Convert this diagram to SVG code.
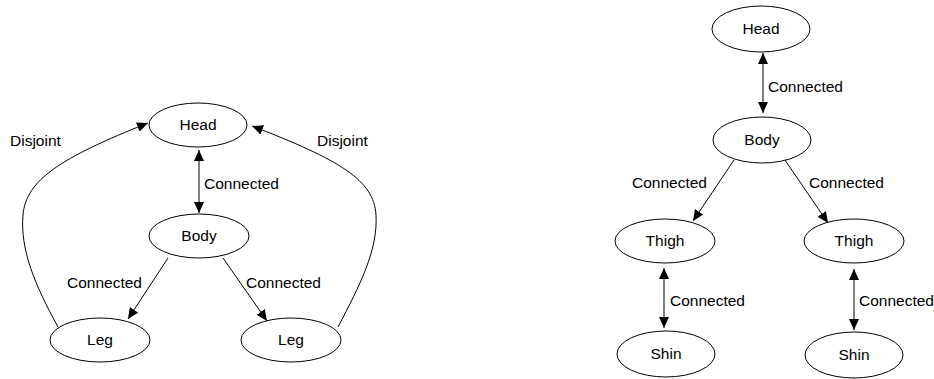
<svg xmlns="http://www.w3.org/2000/svg" width="934" height="379" viewBox="0 0 934 379">
  <style>
    .node ellipse { fill: #fff; stroke: #000; stroke-width: 1; }
    .node text { font-family: "Liberation Sans", Arial, sans-serif; font-size: 15.5px; text-anchor: middle; fill: #000; }
    .edge { fill: none; stroke: #000; stroke-width: 1; }
    .lbl { font-family: "Liberation Sans", Arial, sans-serif; font-size: 15.5px; fill: #000; }
  </style>
  <defs>
    <marker id="arrow" markerUnits="userSpaceOnUse" markerWidth="11" markerHeight="10" refX="11" refY="5" orient="auto-start-reverse" viewBox="0 0 11 10">
      <path d="M0,0 L11,5 L0,10 Z" fill="#000"/>
    </marker>
  </defs>
  <rect width="934" height="379" fill="#fff"/>

  <!-- left graph -->
  <g id="connectors-left">
    <path class="edge" d="M199,150 L199,213" marker-start="url(#arrow)" marker-end="url(#arrow)"/>
    <path class="edge" d="M168,258 L128,319" marker-end="url(#arrow)"/>
    <path class="edge" d="M223,258 L267,321" marker-end="url(#arrow)"/>
    <path class="edge" d="M58,327 C35,285 20,250 23,215 C26,180 60,158 148,123" marker-end="url(#arrow)"/>
    <path class="edge" d="M338,327 C360,285 378,250 376,215 C374,180 340,160 252,126" marker-end="url(#arrow)"/>
    <text class="lbl" x="204" y="189">Connected</text>
    <text class="lbl" x="67" y="288">Connected</text>
    <text class="lbl" x="246" y="288">Connected</text>
    <text class="lbl" x="10" y="146">Disjoint</text>
    <text class="lbl" x="317" y="146">Disjoint</text>
  </g>
  <g id="l-head" class="node"><ellipse cx="198" cy="125" rx="49" ry="22"/><text x="198" y="130">Head</text></g>
  <g id="l-body" class="node"><ellipse cx="199" cy="236" rx="50" ry="22"/><text x="199" y="241">Body</text></g>
  <g id="l-leg1" class="node"><ellipse cx="100" cy="340" rx="50" ry="22"/><text x="100" y="345">Leg</text></g>
  <g id="l-leg2" class="node"><ellipse cx="291" cy="340" rx="50" ry="22"/><text x="291" y="345">Leg</text></g>

  <!-- right graph -->
  <g id="connectors-right">
    <path class="edge" d="M763,53 L763,113" marker-start="url(#arrow)" marker-end="url(#arrow)"/>
    <path class="edge" d="M734,160 L693,221" marker-end="url(#arrow)"/>
    <path class="edge" d="M785,160 L828,223" marker-end="url(#arrow)"/>
    <path class="edge" d="M664,268 L664,328" marker-start="url(#arrow)" marker-end="url(#arrow)"/>
    <path class="edge" d="M854,269 L854,330" marker-start="url(#arrow)" marker-end="url(#arrow)"/>
    <text class="lbl" x="768" y="92">Connected</text>
    <text class="lbl" x="632" y="188">Connected</text>
    <text class="lbl" x="809" y="188">Connected</text>
    <text class="lbl" x="670" y="306">Connected</text>
    <text class="lbl" x="859" y="306">Connected</text>
  </g>
  <g id="r-head" class="node"><ellipse cx="761" cy="29" rx="49" ry="23"/><text x="761" y="34">Head</text></g>
  <g id="r-body" class="node"><ellipse cx="762" cy="140" rx="49" ry="23"/><text x="762" y="145">Body</text></g>
  <g id="r-thigh1" class="node"><ellipse cx="665" cy="241" rx="50" ry="22"/><text x="665" y="246">Thigh</text></g>
  <g id="r-thigh2" class="node"><ellipse cx="854" cy="241" rx="50" ry="22"/><text x="854" y="246">Thigh</text></g>
  <g id="r-shin1" class="node"><ellipse cx="666" cy="354" rx="49" ry="23"/><text x="666" y="359">Shin</text></g>
  <g id="r-shin2" class="node"><ellipse cx="854" cy="355" rx="49" ry="23"/><text x="854" y="360">Shin</text></g>
</svg>
